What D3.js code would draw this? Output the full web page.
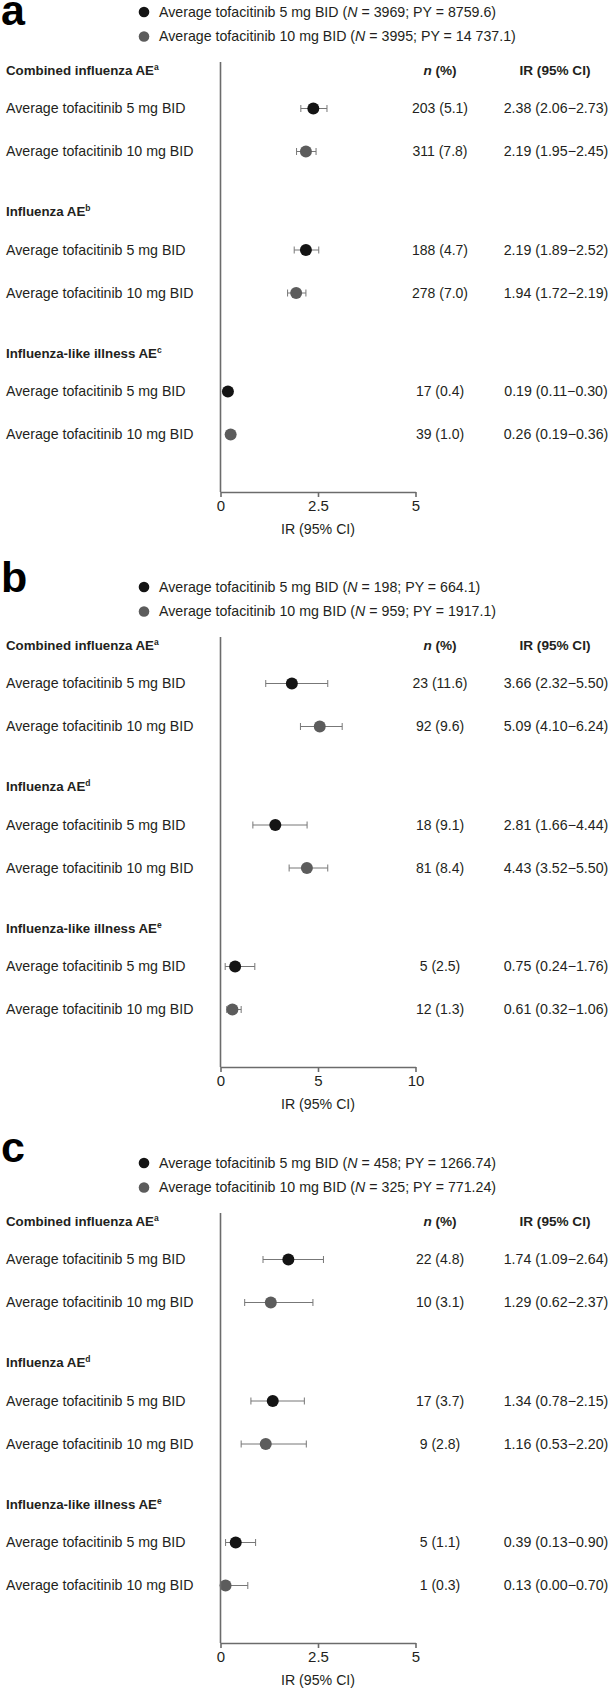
<!DOCTYPE html>
<html>
<head>
<meta charset="utf-8">
<script src="https://cdn.jsdelivr.net/npm/d3@7"></script>
<style>
  body { margin: 0; background: #fff; }
  svg { display: block; }
  text { font-family: "Liberation Sans", Arial, sans-serif; fill: #231f20; }
</style>
</head>
<body>
<div id="chart"></div>
<script>
    // Shared labels
    const arms = ["Average tofacitinib 5 mg BID", "Average tofacitinib 10 mg BID"];
    const groups = ["Combined influenza AE", "Influenza AE", "Influenza-like illness AE"];

    // Panel a
    const footA = ["a", "b", "c"];
    const legendNA = [3969, 3995];
    const legendPYA = ["8759.6", "14 737.1"];
    const nA   = [203, 311, 188, 278, 17, 39];
    const pctA = [5.1, 7.8, 4.7, 7.0, 0.4, 1.0];
    const irA  = [2.38, 2.19, 2.19, 1.94, 0.19, 0.26];
    const loA  = [2.06, 1.95, 1.89, 1.72, 0.11, 0.19];
    const hiA  = [2.73, 2.45, 2.52, 2.19, 0.30, 0.36];
    const ticksA = [0, 2.5, 5];

    // Panel b
    const footB = ["a", "d", "e"];
    const legendNB = [198, 959];
    const legendPYB = ["664.1", "1917.1"];
    const nB   = [23, 92, 18, 81, 5, 12];
    const pctB = [11.6, 9.6, 9.1, 8.4, 2.5, 1.3];
    const irB  = [3.66, 5.09, 2.81, 4.43, 0.75, 0.61];
    const loB  = [2.32, 4.10, 1.66, 3.52, 0.24, 0.32];
    const hiB  = [5.50, 6.24, 4.44, 5.50, 1.76, 1.06];
    const ticksB = [0, 5, 10];

    // Panel c
    const footC = ["a", "d", "e"];
    const legendNC = [458, 325];
    const legendPYC = ["1266.74", "771.24"];
    const nC   = [22, 10, 17, 9, 5, 1];
    const pctC = [4.8, 3.1, 3.7, 2.8, 1.1, 0.3];
    const irC  = [1.74, 1.29, 1.34, 1.16, 0.39, 0.13];
    const loC  = [1.09, 0.62, 0.78, 0.53, 0.13, 0.00];
    const hiC  = [2.64, 2.37, 2.15, 2.20, 0.90, 0.70];
    const ticksC = [0, 2.5, 5];

    const armColor = ["#141414", "#5c5c5c"];
    const lineColor = "#6b6b6b";

    const svg = d3.select("#chart").append("svg")
        .attr("width", 613)
        .attr("height", 1695);

    function drawPanel( letter, letterY, top, foot, legN, legPY, n, pct, ir, lo, hi, ticks ) {

        const g = svg.append("g");
        const x = d3.scaleLinear()
            .domain([ticks[0], ticks[ticks.length - 1]])
            .range([220.5, 415.5]);
        const axisY = top + 422;

        // panel letter
        g.append("text")
            .attr("x", 1).attr("y", letterY)
            .style("font-size", "43px").style("font-weight", "bold")
            .style("fill", "#000")
            .text(letter);

        // legend
        arms.forEach(function( arm, i ) {
            const ly = top - 58 + i * 24.5;
            g.append("circle")
                .attr("cx", 144).attr("cy", ly).attr("r", 5.3)
                .attr("fill", armColor[i]);
            const t = g.append("text")
                .attr("x", 159).attr("y", ly).attr("dy", "0.35em")
                .style("font-size", "14.2px");
            t.append("tspan").text(arm + " (");
            t.append("tspan").style("font-style", "italic").text("N");
            t.append("tspan").text(" = " + legN[i] + "; PY = " + legPY[i] + ")");
        });

        // column headers
        const nh = g.append("text")
            .attr("x", 440).attr("y", top).attr("dy", "0.35em")
            .attr("text-anchor", "middle")
            .style("font-size", "13.6px").style("font-weight", "bold");
        nh.append("tspan").style("font-style", "italic").text("n");
        nh.append("tspan").text(" (%)");

        g.append("text")
            .attr("x", 555).attr("y", top).attr("dy", "0.35em")
            .attr("text-anchor", "middle")
            .style("font-size", "13.6px").style("font-weight", "bold")
            .text("IR (95% CI)");

        // groups and rows
        groups.forEach(function( name, gi ) {
            const gy = top + gi * 141.5;
            const h = g.append("text")
                .attr("x", 6).attr("y", gy).attr("dy", "0.35em")
                .style("font-size", "13.3px").style("font-weight", "bold");
            h.append("tspan").text(name);
            h.append("tspan").style("font-size", "8.5px").attr("dy", "-5").text(foot[gi]);

            arms.forEach(function( arm, ai ) {
                const k = gi * 2 + ai;
                const ry = gy + 38.5 + ai * 43;

                g.append("text")
                    .attr("x", 6).attr("y", ry).attr("dy", "0.35em")
                    .style("font-size", "14.2px")
                    .text(arm);

                // error bar
                g.append("line")
                    .attr("x1", x(lo[k])).attr("x2", x(hi[k]))
                    .attr("y1", ry).attr("y2", ry)
                    .attr("stroke", "#777").attr("stroke-width", 1);
                [lo[k], hi[k]].forEach(function( v ) {
                    g.append("line")
                        .attr("x1", x(v)).attr("x2", x(v))
                        .attr("y1", ry - 3.5).attr("y2", ry + 3.5)
                        .attr("stroke", "#777").attr("stroke-width", 1);
                });
                g.append("circle")
                    .attr("cx", x(ir[k])).attr("cy", ry).attr("r", 6)
                    .attr("fill", armColor[ai]);

                g.append("text")
                    .attr("x", 440).attr("y", ry).attr("dy", "0.35em")
                    .attr("text-anchor", "middle")
                    .style("font-size", "14px")
                    .text(n[k] + " (" + pct[k].toFixed(1) + ")");

                g.append("text")
                    .attr("x", 556).attr("y", ry).attr("dy", "0.35em")
                    .attr("text-anchor", "middle")
                    .style("font-size", "14.2px")
                    .text(ir[k].toFixed(2) + " (" + lo[k].toFixed(2) + "\u2212" + hi[k].toFixed(2) + ")");
            });
        });

        // vertical reference line at 0
        g.append("line")
            .attr("x1", x(0)).attr("x2", x(0))
            .attr("y1", top - 8).attr("y2", axisY)
            .attr("stroke", lineColor).attr("stroke-width", 1.6);

        // x axis
        const ax = g.append("g")
            .attr("transform", "translate(0," + axisY + ")")
            .call(d3.axisBottom(x).tickValues(ticks).tickSize(5).tickSizeOuter(0)
                .tickFormat(d3.format("~g")));
        ax.select(".domain").attr("stroke", lineColor).attr("stroke-width", 1.6);
        ax.selectAll(".tick line").attr("stroke", lineColor).attr("stroke-width", 1.6);
        ax.selectAll(".tick text")
            .attr("y", 8)
            .style("font-size", "15px")
            .style("font-family", "'Liberation Sans', Arial, sans-serif")
            .attr("fill", "#231f20");

        g.append("text")
            .attr("x", x.range()[0] + (x.range()[1] - x.range()[0]) / 2)
            .attr("y", axisY + 37).attr("dy", "0.35em")
            .attr("text-anchor", "middle")
            .style("font-size", "14.2px")
            .text("IR (95% CI)");
    }

    drawPanel("a", 25, 70, footA, legendNA, legendPYA, nA, pctA, irA, loA, hiA, ticksA);
    drawPanel("b", 592, 645, footB, legendNB, legendPYB, nB, pctB, irB, loB, hiB, ticksB);
    drawPanel("c", 1162, 1221, footC, legendNC, legendPYC, nC, pctC, irC, loC, hiC, ticksC);
</script>
</body>
</html>
